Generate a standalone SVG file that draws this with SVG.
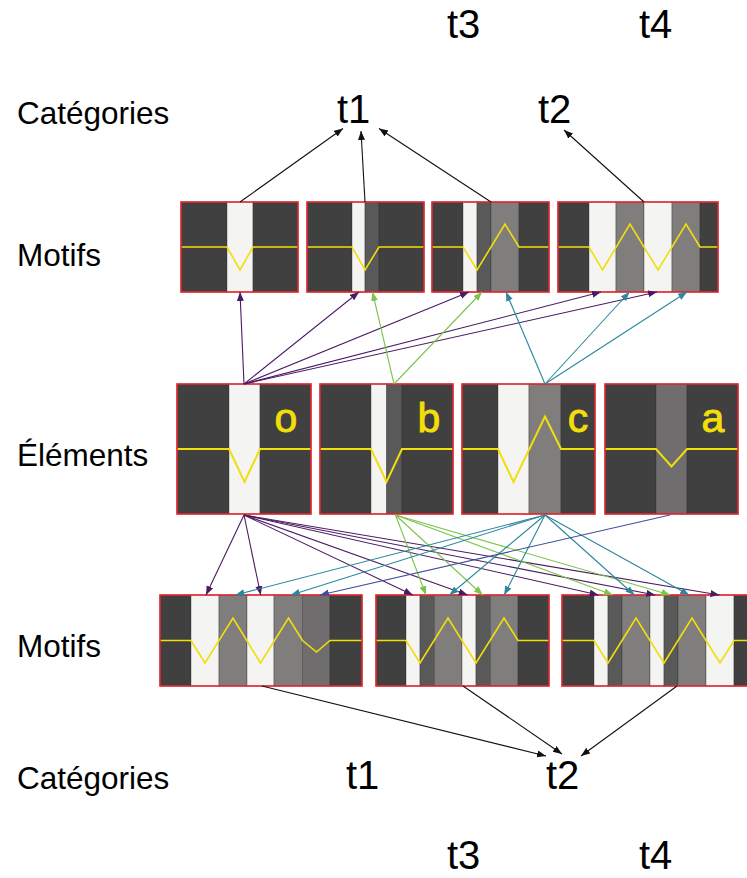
<svg xmlns="http://www.w3.org/2000/svg" width="747" height="878" viewBox="0 0 747 878">
<defs>
<style>
.lbl{font-family:"Liberation Sans",Arial,sans-serif;font-size:31.5px;fill:#000}
.cat{font-family:"Liberation Sans",Arial,sans-serif;font-size:40px;fill:#000}
.let{font-family:"Liberation Sans",Arial,sans-serif;font-size:41px;fill:#f2de0a;stroke:#f2de0a;stroke-width:0.9}
.D{fill:#414041}.L{fill:#f4f4f2}.M{fill:#5a5959}.G{fill:#807e7d}.G2{fill:#6f6d6d}
.st rect{stroke:#2f2f2f;stroke-opacity:.45;stroke-width:.8}
.st rect.frame{fill:none;stroke:#e8262e;stroke-opacity:1;stroke-width:1.6}
.sig{fill:none;stroke:#f2de0a;stroke-width:1.6;stroke-linejoin:miter}
.sigE{fill:none;stroke:#f2de0a;stroke-width:2}
.k{stroke:#111;stroke-width:1.1;fill:none;marker-end:url(#ak)}
.p{stroke:#4b1a63;stroke-width:1.1;fill:none;marker-end:url(#ap)}
.g{stroke:#7cc44e;stroke-width:1.1;fill:none;marker-end:url(#ag)}
.t{stroke:#2a879e;stroke-width:1.1;fill:none;marker-end:url(#at)}
.i{stroke:#3f4f9d;stroke-width:1.1;fill:none;marker-end:url(#ai)}
</style>
<marker id="ak" markerUnits="userSpaceOnUse" markerWidth="10" markerHeight="8" refX="9" refY="3.5" orient="auto"><path d="M0,0 L9,3.5 L0,7 z" fill="#111"/></marker>
<marker id="ap" markerUnits="userSpaceOnUse" markerWidth="10" markerHeight="8" refX="9" refY="3.5" orient="auto"><path d="M0,0 L9,3.5 L0,7 z" fill="#4b1a63"/></marker>
<marker id="ag" markerUnits="userSpaceOnUse" markerWidth="10" markerHeight="8" refX="9" refY="3.5" orient="auto"><path d="M0,0 L9,3.5 L0,7 z" fill="#7cc44e"/></marker>
<marker id="at" markerUnits="userSpaceOnUse" markerWidth="10" markerHeight="8" refX="9" refY="3.5" orient="auto"><path d="M0,0 L9,3.5 L0,7 z" fill="#2a879e"/></marker>
<marker id="ai" markerUnits="userSpaceOnUse" markerWidth="10" markerHeight="8" refX="9" refY="3.5" orient="auto"><path d="M0,0 L9,3.5 L0,7 z" fill="#3f4f9d"/></marker>
</defs>
<rect width="747" height="878" fill="#fff"/>

<g id="row-labels">
<text class="lbl" x="17" y="124">Catégories</text>
<text class="lbl" x="17" y="266">Motifs</text>
<text class="lbl" x="17" y="466">Éléments</text>
<text class="lbl" x="17" y="657">Motifs</text>
<text class="lbl" x="17" y="789">Catégories</text>
</g>

<g id="cat-top">
<text class="cat" x="447" y="38">t3</text>
<text class="cat" x="639" y="38">t4</text>
<text class="cat" x="337" y="123">t1</text>
<text class="cat" x="538" y="123">t2</text>
</g>
<g id="cat-bottom">
<text class="cat" x="346" y="789">t1</text>
<text class="cat" x="546" y="789">t2</text>
<text class="cat" x="447" y="869">t3</text>
<text class="cat" x="639" y="869">t4</text>
</g>

<g id="motif-top-1" class="st">
<rect class="D" x="181" y="202" width="46" height="90"/><rect class="L" x="227" y="202" width="26" height="90"/><rect class="D" x="253" y="202" width="45" height="90"/>
<path class="sig" d="M181,247 H227 L240,270 L253,247 H298"/>
<rect class="frame" x="181" y="202" width="117" height="90"/>
</g>
<g id="motif-top-2" class="st">
<rect class="D" x="307" y="202" width="45" height="90"/><rect class="L" x="352" y="202" width="13" height="90"/><rect class="M" x="365" y="202" width="14" height="90"/><rect class="D" x="379" y="202" width="45" height="90"/>
<path class="sig" d="M307,247 H352 L365,270 L379,247 H424"/>
<rect class="frame" x="307" y="202" width="117" height="90"/>
</g>
<g id="motif-top-3" class="st">
<rect class="D" x="432" y="202" width="31" height="90"/><rect class="L" x="463" y="202" width="14" height="90"/><rect class="M" x="477" y="202" width="14" height="90"/><rect class="G" x="491" y="202" width="28" height="90"/><rect class="D" x="519" y="202" width="30" height="90"/>
<path class="sig" d="M432,247 H463 L477,270 L505,224 L519,247 H549"/>
<rect class="frame" x="432" y="202" width="117" height="90"/>
</g>
<g id="motif-top-4" class="st">
<rect class="D" x="558" y="202" width="31" height="90"/><rect class="L" x="589" y="202" width="27" height="90"/><rect class="G" x="616" y="202" width="28" height="90"/><rect class="L" x="644" y="202" width="28" height="90"/><rect class="G" x="672" y="202" width="28" height="90"/><rect class="D" x="700" y="202" width="18" height="90"/>
<path class="sig" d="M558,247 H589 L602.5,270 L630,224 L658,270 L686,224 L700,247 H718"/>
<rect class="frame" x="558" y="202" width="160" height="90"/>
</g>

<g id="element-o" class="st">
<rect class="D" x="177" y="384" width="52" height="130"/><rect class="L" x="229" y="384" width="31" height="130"/><rect class="D" x="260" y="384" width="51" height="130"/>
<path class="sigE" d="M177,449 H229 L244.5,482 L260,449 H311"/>
<rect class="frame" x="177" y="384" width="134" height="130"/>
<text class="let" x="286" y="432" text-anchor="middle">o</text>
</g>
<g id="element-b" class="st">
<rect class="D" x="320" y="384" width="51" height="130"/><rect class="L" x="371" y="384" width="15.5" height="130"/><rect class="M" x="386.5" y="384" width="15.5" height="130"/><rect class="D" x="402" y="384" width="51" height="130"/>
<path class="sigE" d="M320,449 H371 L386.5,482 L402,449 H453"/>
<rect class="frame" x="320" y="384" width="133" height="130"/>
<text class="let" x="429" y="432" text-anchor="middle" font-size="31">b</text>
</g>
<g id="element-c" class="st">
<rect class="D" x="462" y="384" width="36" height="130"/><rect class="L" x="498" y="384" width="31" height="130"/><rect class="G" x="529" y="384" width="32" height="130"/><rect class="D" x="561" y="384" width="34" height="130"/>
<path class="sigE" d="M462,449 H498 L513.5,482 L545,416.5 L561,449 H595"/>
<rect class="frame" x="462" y="384" width="133" height="130"/>
<text class="let" x="578" y="432" text-anchor="middle">c</text>
</g>
<g id="element-a" class="st">
<rect class="D" x="605" y="384" width="51" height="130"/><rect class="G2" x="656" y="384" width="31" height="130"/><rect class="D" x="687" y="384" width="51" height="130"/>
<path class="sigE" d="M605,449 H656 L671.5,466.5 L687,449 H738"/>
<rect class="frame" x="605" y="384" width="133" height="130"/>
<text class="let" x="713" y="432" text-anchor="middle">a</text>
</g>

<g id="motif-bottom-1" class="st">
<rect class="D" x="160" y="595" width="31" height="91"/><rect class="L" x="191" y="595" width="28" height="91"/><rect class="G" x="219" y="595" width="28" height="91"/><rect class="L" x="247" y="595" width="27" height="91"/><rect class="G" x="274" y="595" width="28.5" height="91"/><rect class="G2" x="302.5" y="595" width="27.5" height="91"/><rect class="D" x="330" y="595" width="32" height="91"/>
<path class="sig" d="M160,640.5 H191 L205,663 L233,618 L260.5,663 L288.5,618 L302.5,640.5 L316.5,652 L330,640.5 H362"/>
<rect class="frame" x="160" y="595" width="202" height="91"/>
</g>
<g id="motif-bottom-2" class="st">
<rect class="D" x="376" y="595" width="30" height="91"/><rect class="L" x="406" y="595" width="14" height="91"/><rect class="M" x="420" y="595" width="14.5" height="91"/><rect class="G" x="434.5" y="595" width="27.5" height="91"/><rect class="L" x="462" y="595" width="14" height="91"/><rect class="M" x="476" y="595" width="14.5" height="91"/><rect class="G" x="490.5" y="595" width="27.5" height="91"/><rect class="D" x="518" y="595" width="31" height="91"/>
<path class="sig" d="M376,640.5 H406 L420,663 L448,618 L476,663 L504,618 L518,640.5 H549"/>
<rect class="frame" x="376" y="595" width="173" height="91"/>
</g>
<g id="motif-bottom-3" class="st">
<rect class="D" x="562" y="595" width="32" height="91"/><rect class="L" x="594" y="595" width="14" height="91"/><rect class="M" x="608" y="595" width="14" height="91"/><rect class="G" x="622" y="595" width="28" height="91"/><rect class="L" x="650" y="595" width="14" height="91"/><rect class="M" x="664" y="595" width="14" height="91"/><rect class="G" x="678" y="595" width="28" height="91"/><rect class="L" x="706" y="595" width="28" height="91"/><rect class="D" x="734" y="595" width="26" height="91"/>
<path class="sig" d="M562,640.5 H594 L608,663 L636,618 L664,663 L692,618 L706,640.5 L720,663 L734,640.5 H760"/>
<rect class="frame" x="562" y="595" width="198" height="91"/>
</g>

<g id="connectors">
<line class="k" x1="240" y1="202" x2="343" y2="128.5"/>
<line class="k" x1="365" y1="202" x2="361" y2="131"/>
<line class="k" x1="491" y1="202" x2="379" y2="128.5"/>
<line class="k" x1="644" y1="202" x2="564" y2="130"/>

<line class="p" x1="244" y1="384" x2="240" y2="292"/>
<line class="p" x1="244" y1="384" x2="359" y2="292"/>
<line class="p" x1="244" y1="384" x2="469" y2="292"/>
<line class="p" x1="244" y1="384" x2="601" y2="292"/>
<line class="p" x1="244" y1="384" x2="657" y2="292"/>
<line class="g" x1="394" y1="384" x2="372.5" y2="292"/>
<line class="g" x1="394" y1="384" x2="482" y2="292"/>
<line class="t" x1="545" y1="384" x2="506" y2="292"/>
<line class="t" x1="545" y1="384" x2="629.5" y2="292"/>
<line class="t" x1="545" y1="384" x2="687" y2="292"/>

<line class="p" x1="244" y1="515" x2="206" y2="595"/>
<line class="p" x1="244" y1="515" x2="260.7" y2="595"/>
<line class="p" x1="244" y1="515" x2="412.8" y2="595"/>
<line class="p" x1="244" y1="515" x2="467.6" y2="595"/>
<line class="p" x1="244" y1="515" x2="598.6" y2="595"/>
<line class="p" x1="244" y1="515" x2="655.2" y2="595"/>
<line class="p" x1="244" y1="515" x2="719.4" y2="595"/>
<line class="g" x1="395.5" y1="515" x2="426" y2="595"/>
<line class="g" x1="395.5" y1="515" x2="482.7" y2="595"/>
<line class="g" x1="395.5" y1="515" x2="612.9" y2="595"/>
<line class="g" x1="395.5" y1="515" x2="670.3" y2="595"/>
<line class="t" x1="545" y1="515" x2="235.4" y2="595"/>
<line class="t" x1="545" y1="515" x2="290.9" y2="595"/>
<line class="t" x1="545" y1="515" x2="449.5" y2="595"/>
<line class="t" x1="545" y1="515" x2="504.2" y2="595"/>
<line class="t" x1="545" y1="515" x2="634.4" y2="595"/>
<line class="t" x1="545" y1="515" x2="689.2" y2="595"/>
<line class="i" x1="670" y1="515" x2="320" y2="595"/>

<line class="k" x1="262" y1="686" x2="546" y2="756"/>
<line class="k" x1="463" y1="686" x2="562" y2="754"/>
<line class="k" x1="677" y1="686" x2="581" y2="756"/>
</g>
</svg>
